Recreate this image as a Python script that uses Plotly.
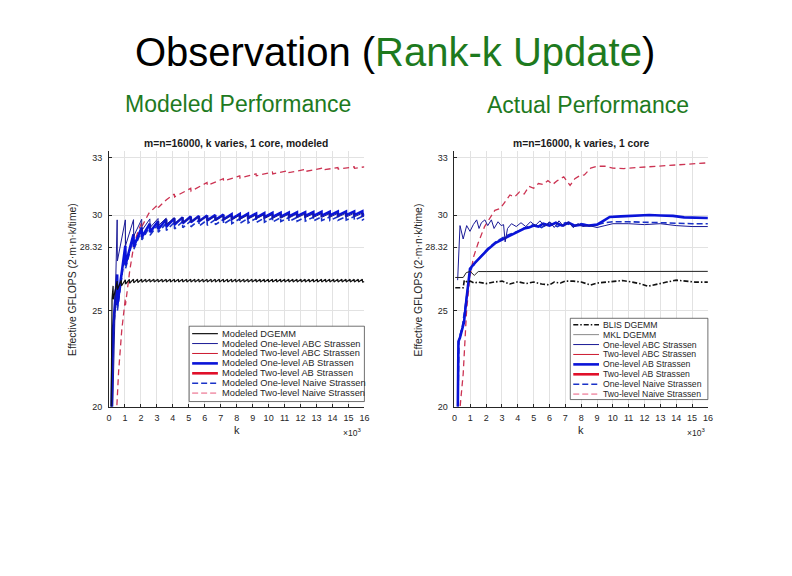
import plotly.graph_objects as go

W, H = 792, 576
FONT = "Liberation Sans, Arial, Helvetica, sans-serif"
TXT = "#262626"
GREEN = "#1e7a1e"

# ---------------- data ----------------
x_ticks = list(range(0, 17))
y_ticks = [20, 25, 28.32, 30, 33]
y_tick_text = ["20", "25", "28.32", "30", "33"]

# block sizes (k in units of 10^3) at which the modeled curves jump
kc_dgemm = 0.256
kc_one = 0.512

# ---- Modeled DGEMM (sawtooth, period 256) ----
mod_dgemm_head_k = [0.06, 0.13, 0.19]
mod_dgemm_head = [12.0, 22.5, 25.6]
mod_dgemm_peak = [26.30, 26.55, 26.60, 26.62, 26.64, 26.65, 26.65, 26.65, 26.65, 26.65,
                  26.65, 26.65, 26.65, 26.65, 26.65, 26.65, 26.65, 26.65, 26.65, 26.65,
                  26.65, 26.65, 26.65, 26.65, 26.65, 26.65, 26.65, 26.65, 26.65, 26.65,
                  26.65, 26.65, 26.65, 26.65, 26.65, 26.65, 26.65, 26.65, 26.65, 26.65,
                  26.65, 26.65, 26.65, 26.65, 26.65, 26.65, 26.65, 26.65, 26.65, 26.65,
                  26.65, 26.65, 26.65, 26.65, 26.65, 26.65, 26.65, 26.65, 26.65, 26.65,
                  26.65, 26.65]
mod_dgemm_trough = [25.60, 26.10, 26.30, 26.40, 26.44, 26.46, 26.48, 26.49, 26.50, 26.50,
                    26.50, 26.50, 26.50, 26.50, 26.50, 26.50, 26.50, 26.50, 26.50, 26.50,
                    26.50, 26.50, 26.50, 26.50, 26.50, 26.50, 26.50, 26.50, 26.50, 26.50,
                    26.50, 26.50, 26.50, 26.50, 26.50, 26.50, 26.50, 26.50, 26.50, 26.50,
                    26.50, 26.50, 26.50, 26.50, 26.50, 26.50, 26.50, 26.50, 26.50, 26.50,
                    26.50, 26.50, 26.50, 26.50, 26.50, 26.50, 26.50, 26.50, 26.50, 26.50,
                    26.50, 26.50]
mod_dgemm_end = 26.52

# ---- Modeled One-level ABC Strassen (period 512) ----
mod_one_abc_head_k = [0.18]
mod_one_abc_head = [18.0]
mod_one_abc_peak = [29.75, 29.75, 29.76, 29.78, 29.80, 29.82, 29.84, 29.86, 29.88, 29.90,
                    29.92, 29.94, 29.95, 29.97, 29.98, 29.99, 30.00, 30.01, 30.02, 30.03,
                    30.04, 30.05, 30.06, 30.06, 30.07, 30.08, 30.08, 30.09, 30.10, 30.10,
                    30.10]
mod_one_abc_trough = [27.60, 28.40, 28.90, 29.20, 29.35, 29.45, 29.52, 29.57, 29.61, 29.65,
                      29.68, 29.70, 29.72, 29.74, 29.76, 29.78, 29.80, 29.81, 29.82, 29.83,
                      29.84, 29.85, 29.86, 29.87, 29.88, 29.88, 29.89, 29.90, 29.90, 29.91,
                      29.91]
mod_one_abc_end = 29.95

# ---- Modeled One-level AB Strassen ----
mod_one_ab_head_k = [0.08, 0.25]
mod_one_ab_head = [16.0, 24.0]
mod_one_ab_peak = [26.90, 28.40, 29.00, 29.35, 29.55, 29.68, 29.77, 29.83, 29.88, 29.92,
                   29.95, 29.98, 30.00, 30.02, 30.04, 30.06, 30.07, 30.08, 30.10, 30.11,
                   30.12, 30.13, 30.14, 30.15, 30.16, 30.17, 30.17, 30.18, 30.19, 30.19,
                   30.20]
mod_one_ab_trough = [25.30, 27.40, 28.35, 28.85, 29.10, 29.27, 29.40, 29.50, 29.57, 29.63,
                     29.68, 29.72, 29.75, 29.78, 29.80, 29.83, 29.85, 29.87, 29.89, 29.90,
                     29.92, 29.93, 29.94, 29.95, 29.96, 29.97, 29.98, 29.98, 29.99, 30.00,
                     30.00]
mod_one_ab_end = 30.05

# ---- Modeled One-level Naive Strassen ----
mod_one_naive_head_k = [0.08, 0.25]
mod_one_naive_head = [16.0, 23.6]
mod_one_naive_peak = [26.60, 28.20, 28.85, 29.20, 29.40, 29.50, 29.57, 29.62, 29.66, 29.69,
                      29.72, 29.74, 29.76, 29.78, 29.80, 29.81, 29.82, 29.83, 29.84, 29.85,
                      29.86, 29.87, 29.88, 29.88, 29.89, 29.90, 29.90, 29.91, 29.92, 29.92,
                      29.93]
mod_one_naive_trough = [25.00, 27.20, 28.20, 28.70, 28.95, 29.10, 29.20, 29.28, 29.34, 29.39,
                        29.43, 29.47, 29.50, 29.53, 29.55, 29.57, 29.59, 29.61, 29.63, 29.64,
                        29.66, 29.67, 29.68, 29.69, 29.70, 29.71, 29.72, 29.73, 29.74, 29.74,
                        29.75]
mod_one_naive_end = 29.80

# ---- Modeled Two-level Naive Strassen ----
mod_two_naive_k = [0.40, 0.60, 0.80, 1.02, 1.03, 1.30, 1.55, 1.80, 2.04, 2.06, 2.50, 3.07, 3.09,
                   3.60, 4.09, 4.11, 5.12, 5.14, 6.14, 6.16, 7.16, 7.18, 8.19, 8.21, 9.21, 9.23,
                   10.24, 10.26, 11.26, 11.28, 12.29, 12.31, 13.31, 13.33, 14.34, 14.36, 15.36,
                   15.38, 16.00]
mod_two_naive = [18.5, 21.8, 24.0, 25.6, 25.3, 27.1, 28.4, 29.1, 29.6, 29.4, 30.1, 30.55, 30.4,
                 30.8, 31.1, 30.95, 31.4, 31.25, 31.7, 31.55, 31.9, 31.78, 32.05, 31.93, 32.15,
                 32.05, 32.25, 32.15, 32.32, 32.22, 32.38, 32.28, 32.44, 32.35, 32.48, 32.40,
                 32.52, 32.44, 32.52]

# ---- Actual ----
act_blis_k = [0.05, 0.55, 0.62, 0.80, 1.00, 1.25, 1.50, 2.00, 2.50, 3.00, 3.50, 4.00, 4.50,
              5.00, 5.50, 6.00, 6.30, 6.70, 7.00, 7.50, 8.00, 8.60, 9.00, 9.50, 10.00, 10.60,
              11.20, 11.80, 12.20, 12.80, 13.40, 14.00, 14.60, 15.20, 16.00]
act_blis = [26.20, 26.20, 26.60, 26.50, 26.55, 26.45, 26.50, 26.42, 26.50, 26.55, 26.40, 26.52,
            26.42, 26.50, 26.40, 26.35, 26.50, 26.45, 26.55, 26.55, 26.50, 26.35, 26.45, 26.50,
            26.52, 26.58, 26.50, 26.40, 26.28, 26.40, 26.50, 26.60, 26.55, 26.50, 26.50]

act_mkl_k = [0.05, 0.55, 0.75, 1.00, 1.25, 1.50, 2.00, 3.00, 4.00, 5.00, 6.00, 8.00, 10.00,
             12.00, 14.00, 16.00]
act_mkl = [26.74, 26.74, 27.00, 27.05, 26.85, 27.05, 27.05, 27.06, 27.05, 27.05, 27.06, 27.05,
           27.05, 27.05, 27.06, 27.06]

act_one_abc_k = [0.20, 0.35, 0.55, 0.77, 0.98, 1.19, 1.40, 1.55, 1.70, 1.92, 2.10, 2.33, 2.50,
                 2.75, 2.95, 3.10, 3.20, 3.35, 3.60, 3.90, 4.20, 4.50, 4.80, 5.10, 5.40, 5.70,
                 6.00, 6.30, 6.60, 6.90, 7.20, 7.50, 7.80, 8.10, 8.50, 9.00, 9.50, 10.00, 11.00,
                 12.00, 13.00, 14.00, 15.00, 16.00]
act_one_abc = [26.60, 29.45, 28.75, 29.45, 29.15, 29.50, 29.75, 29.30, 29.60, 29.75, 29.45,
               29.75, 29.30, 29.65, 29.45, 29.50, 28.60, 29.30, 29.55, 29.40, 29.60, 29.40,
               29.65, 29.45, 29.70, 29.40, 29.65, 29.35, 29.70, 29.40, 29.65, 29.35, 29.55,
               29.40, 29.45, 29.35, 29.45, 29.55, 29.55, 29.50, 29.55, 29.45, 29.40, 29.40]

act_one_ab_k = [0.20, 0.25, 0.35, 0.50, 0.60, 0.77, 0.98, 1.29, 1.70, 2.10, 2.60, 3.17, 3.50,
                3.80, 4.10, 4.40, 4.70, 5.00, 5.30, 5.60, 6.00, 6.40, 6.80, 7.20, 7.60, 8.00,
                8.50, 9.00, 9.40, 9.80, 10.50, 11.50, 12.30, 13.00, 13.80, 14.50, 15.20, 16.00]
act_one_ab = [19.00, 23.40, 23.60, 24.10, 24.40, 25.70, 27.20, 27.50, 27.85, 28.20, 28.55,
              28.80, 28.95, 29.07, 29.20, 29.30, 29.35, 29.45, 29.40, 29.55, 29.45, 29.60,
              29.45, 29.60, 29.45, 29.50, 29.45, 29.50, 29.70, 29.90, 29.93, 29.98, 30.00,
              29.98, 29.96, 29.88, 29.85, 29.85]

act_one_naive_k = [0.20, 0.28, 0.50, 0.77, 1.00, 1.30, 1.70, 2.10, 2.60, 3.10, 3.50, 4.00,
                   4.50, 5.00, 5.50, 6.00, 6.50, 7.00, 7.50, 8.00, 8.50, 9.00, 9.50, 10.00,
                   11.00, 12.00, 13.00, 14.00, 15.00, 16.00]
act_one_naive = [19.00, 23.50, 24.20, 25.80, 27.10, 27.50, 27.90, 28.25, 28.60, 28.85, 29.00,
                 29.15, 29.35, 29.50, 29.35, 29.60, 29.40, 29.60, 29.40, 29.55, 29.45, 29.50,
                 29.60, 29.65, 29.65, 29.62, 29.60, 29.58, 29.55, 29.55]

act_two_naive_k = [0.30, 0.55, 0.77, 0.98, 1.20, 1.50, 1.90, 2.30, 2.55, 2.90, 3.20, 3.50,
                   3.80, 4.10, 4.40, 4.70, 5.00, 5.30, 5.60, 5.90, 6.20, 6.50, 6.90, 7.30,
                   7.60, 7.90, 8.20, 8.60, 9.00, 9.50, 10.00, 10.70, 11.50, 12.30, 13.20,
                   14.40, 15.20, 16.00]
act_two_naive = [19.50, 21.70, 25.10, 26.80, 27.80, 28.55, 29.40, 29.90, 30.25, 30.35, 30.70,
                 31.05, 30.95, 31.20, 31.10, 31.50, 31.40, 31.65, 31.60, 31.80, 31.60, 31.80,
                 32.00, 31.55, 31.90, 32.05, 32.10, 32.45, 32.55, 32.55, 32.45, 32.43, 32.48,
                 32.52, 32.60, 32.66, 32.70, 32.73]

legend_modeled = ["Modeled DGEMM", "Modeled One-level ABC Strassen", "Modeled Two-level ABC Strassen",
                  "Modeled One-level AB Strassen", "Modeled Two-level AB Strassen",
                  "Modeled One-level Naive Strassen", "Modeled Two-level Naive Strassen"]
legend_actual = ["BLIS DGEMM", "MKL DGEMM", "One-level ABC Strassen", "Two-level ABC Strassen",
                 "One-level AB Strassen", "Two-level AB Strassen", "One-level Naive Strassen",
                 "Two-level Naive Strassen"]

# ---------------- styles ----------------
NAVY = "#1a1a96"
BLUE = "#0a14d8"
BLUE_D = "#1a32c8"
RED = "#cc1a30"
RED_D = "#cc3352"
PINK = "#f2a0b4"

S_DGEMM = dict(color="#111111", width=1.2)
S_BLIS = dict(color="#111111", width=1.6, dash="5px,2px,1.5px,2px")
S_MKL = dict(color="#222222", width=1.0)
S_MKL_LEG = dict(color="#8a8a8a", width=1.0)
S_ONE_ABC = dict(color=NAVY, width=1.0)
S_TWO_ABC = dict(color=RED, width=1.0)
S_ONE_AB = dict(color=BLUE, width=2.6)
S_TWO_AB = dict(color="#e0102a", width=2.6)
S_ONE_NAIVE = dict(color=BLUE_D, width=1.6, dash="6px,3px")
S_TWO_NAIVE = dict(color=RED_D, width=1.3, dash="6px,4px")
S_TWO_NAIVE_LEG = dict(color=PINK, width=1.6, dash="6px,3px")


def sawtooth(period, head_k, head_v, peaks, troughs, end_v):
    xs, ys = list(head_k), list(head_v)
    for j, (p, t) in enumerate(zip(peaks, troughs), start=1):
        kj = period * j
        xs += [kj, kj + 0.012]
        ys += [p, t]
    xs.append(16.0)
    ys.append(end_v)
    return xs, ys


fig = go.Figure()


def add(x, y, style, ax):
    fig.add_trace(go.Scatter(x=x, y=y, mode="lines", line=style, showlegend=False,
                             hoverinfo="skip", xaxis="x" + ax, yaxis="y" + ax))


# modeled (left)
add(mod_two_naive_k, mod_two_naive, S_TWO_NAIVE, "")
x, y = sawtooth(kc_one, mod_one_naive_head_k, mod_one_naive_head, mod_one_naive_peak, mod_one_naive_trough, mod_one_naive_end)
add(x, y, S_ONE_NAIVE, "")
x, y = sawtooth(kc_one, mod_one_ab_head_k, mod_one_ab_head, mod_one_ab_peak, mod_one_ab_trough, mod_one_ab_end)
add(x, y, S_ONE_AB, "")
x, y = sawtooth(kc_one, mod_one_abc_head_k, mod_one_abc_head, mod_one_abc_peak, mod_one_abc_trough, mod_one_abc_end)
add(x, y, S_ONE_ABC, "")
x, y = sawtooth(kc_dgemm, mod_dgemm_head_k, mod_dgemm_head, mod_dgemm_peak, mod_dgemm_trough, mod_dgemm_end)
add(x, y, S_DGEMM, "")

# actual (right)
add(act_two_naive_k, act_two_naive, S_TWO_NAIVE, "2")
add(act_one_naive_k, act_one_naive, S_ONE_NAIVE, "2")
add(act_one_ab_k, act_one_ab, S_ONE_AB, "2")
add(act_one_abc_k, act_one_abc, S_ONE_ABC, "2")
add(act_mkl_k, act_mkl, S_MKL, "2")
add(act_blis_k, act_blis, S_BLIS, "2")

# the page body adds an 8px offset; compensate so window pixels match the reference
OFF = 8


def px(v):
    return (v - OFF) / W


def py(v):
    return 1 - (v - OFF) / H


Y_TOP, Y_BOT = 152, 410
LEFT = (107, 365)
RIGHT = (456, 712)

axis_common = dict(range=[0, 16], tickvals=x_ticks, ticktext=[str(t) for t in x_ticks],
                   showgrid=True, gridcolor="#e2e2e2", gridwidth=1, zeroline=False,
                   showline=True, linecolor=TXT, linewidth=0.8, ticks="inside", ticklen=3,
                   tickcolor=TXT, tickfont=dict(family=FONT, size=9, color=TXT),
                   ticklabelstandoff=3, fixedrange=True)
yaxis_common = dict(range=[20, 33.36], tickvals=y_ticks, ticktext=y_tick_text,
                    showgrid=True, gridcolor="#e2e2e2", gridwidth=1, zeroline=False,
                    showline=True, linecolor=TXT, linewidth=0.8, ticks="inside", ticklen=3,
                    tickcolor=TXT, tickfont=dict(family=FONT, size=9, color=TXT),
                    ticklabelstandoff=4, fixedrange=True)

fig.update_layout(
    width=W, height=H, autosize=False,
    margin=dict(l=0, r=0, t=0, b=0),
    paper_bgcolor="white", plot_bgcolor="white",
    showlegend=False,
    xaxis=dict(domain=[px(LEFT[0]), px(LEFT[1])], anchor="y", **axis_common),
    yaxis=dict(domain=[py(Y_BOT), py(Y_TOP)], anchor="x", **yaxis_common),
    xaxis2=dict(domain=[px(RIGHT[0]), px(RIGHT[1])], anchor="y2", **axis_common),
    yaxis2=dict(domain=[py(Y_BOT), py(Y_TOP)], anchor="x2", **yaxis_common),
)

ann = []
shapes = []


def text(x, y, s, size, color=TXT, xanchor="center", yanchor="middle", angle=0, bold=False):
    if bold:
        s = "<b>" + s + "</b>"
    ann.append(dict(x=px(x), y=py(y), xref="paper", yref="paper", text=s, showarrow=False,
                    xanchor=xanchor, yanchor=yanchor, textangle=angle,
                    font=dict(family=FONT, size=size, color=color)))


# slide headings
text(396, 52, "Observation (<span style='color:%s'>Rank-k Update</span>)" % GREEN, 40, color="#000000")
text(237, 105, "Modeled Performance", 23, color=GREEN)
text(591, 106, "Actual Performance", 23, color=GREEN)

# subplot titles
text(235, 145, "m=n=16000, k varies, 1 core, modeled", 10.3, bold=True, color="#1a1a1a")
text(584, 145, "m=n=16000, k varies, 1 core", 10.3, bold=True, color="#1a1a1a")

# axis labels
for cx, ylx, xr in [(236, 70, 364), (584, 420, 711)]:
    text(cx, 434, "k", 11)
    text(xr, 436, "×10<sup>3</sup>", 8.5, xanchor="right")
    text(ylx, 282, "Effective GFLOPS (2·m·n·k/time)", 10.4, angle=-90)


def legend(box, rows_y0, sample_x, labels, styles, size):
    x0, x1, y0, y1 = box
    shapes.append(dict(type="rect", xref="paper", yref="paper", x0=px(x0), x1=px(x1),
                       y0=py(y1), y1=py(y0), fillcolor="white",
                       line=dict(color="#333333", width=0.7), layer="above"))
    for i, (lab, st) in enumerate(zip(labels, styles)):
        yy = rows_y0 + 10 * i
        shapes.append(dict(type="line", xref="paper", yref="paper", x0=px(sample_x[0]),
                           x1=px(sample_x[1]), y0=py(yy), y1=py(yy), line=st, layer="above"))
        text(sample_x[1] + 2.5, yy, lab, size, xanchor="left")


legend((188, 365, 329, 405), 336.5, (191, 217), legend_modeled,
       [S_DGEMM, S_ONE_ABC, S_TWO_ABC, S_ONE_AB, S_TWO_AB, S_ONE_NAIVE, S_TWO_NAIVE_LEG], 9.3)
legend((573, 712, 321, 403), 327.5, (576, 602), legend_actual,
       [S_BLIS, S_MKL_LEG, S_ONE_ABC, S_TWO_ABC, S_ONE_AB, S_TWO_AB, S_ONE_NAIVE, S_TWO_NAIVE_LEG], 8.7)

fig.update_layout(annotations=ann, shapes=shapes)
fig.write_html("out.html")
